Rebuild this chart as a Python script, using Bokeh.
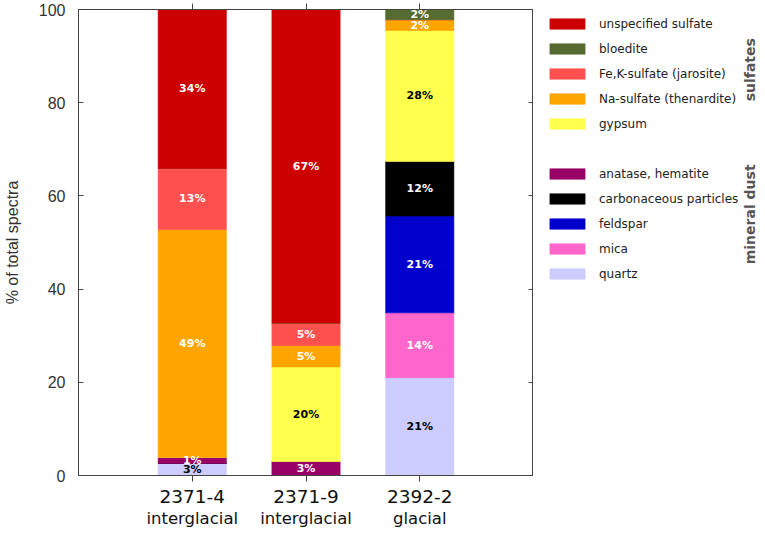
import math
from bokeh.plotting import figure
from bokeh.layouts import row
from bokeh.models import (Range1d, LinearAxis, FixedTicker, Legend, LegendItem,
                          ColumnDataSource, Label)
from bokeh.core.properties import value
from bokeh.embed import file_html
from bokeh.resources import INLINE

# ---------------- data ----------------
samples = ["2371-4", "2371-9", "2392-2"]
climate = ["interglacial", "interglacial", "glacial"]

# stacked from bottom to top
quartz = [2.6, 0.0, 21.0]
mica = [0.0, 0.0, 13.9]
feldspar = [0.0, 0.0, 20.8]
carbonaceous = [0.0, 0.0, 11.7]
anatase_hematite = [1.3, 3.0, 0.0]
gypsum = [0.0, 20.3, 28.1]
na_sulfate = [48.9, 4.6, 2.3]
fek_sulfate = [13.1, 4.8, 0.0]
bloedite = [0.0, 0.0, 2.2]
unspecified = [34.1, 67.3, 0.0]

series_names = ["quartz", "mica", "feldspar", "carbonaceous particles",
                "anatase, hematite", "gypsum", "Na-sulfate (thenardite)",
                "Fe,K-sulfate (jarosite)", "bloedite", "unspecified sulfate"]
series_values = [quartz, mica, feldspar, carbonaceous, anatase_hematite,
                 gypsum, na_sulfate, fek_sulfate, bloedite, unspecified]
y_ticks = [0, 20, 40, 60, 80, 100]
group_labels = ["sulfates", "mineral dust"]

# ---------------- styles ----------------
colors = ["#CCCCFF", "#FF66CC", "#0000CC", "#000000", "#990066",
          "#FFFF4D", "#FFA500", "#FF5050", "#556B2F", "#CC0000"]
label_colors = ["black", "white", "white", "white", "white",
                "black", "white", "white", "white", "white"]
AX = "#444444"

xs = [i + 1 for i in range(len(samples))]
keys = ["s%d" % i for i in range(len(series_names))]
data = {"x": xs}
for k, v in zip(keys, series_values):
    data[k] = v
source = ColumnDataSource(data)

p = figure(width=533, height=530, x_range=Range1d(0, 4), y_range=Range1d(0, 100),
           output_backend="svg", toolbar_location=None,
           min_border_left=77, min_border_top=9, min_border_right=0, min_border_bottom=0)
p.xgrid.visible = False
p.ygrid.visible = False
p.outline_line_color = AX
p.background_fill_color = "white"
p.border_fill_color = "white"

renderers = p.vbar_stack(keys, x="x", width=0.6, source=source,
                         fill_color=colors, line_color=colors, line_alpha=0.6)

# percentage labels
lx, ly, lt, lc = [], [], [], []
for j in range(len(samples)):
    cum = 0.0
    for i, vals in enumerate(series_values):
        v = vals[j]
        if v > 0:
            lx.append(xs[j])
            ly.append(cum + v / 2.0)
            lt.append("%d%%" % int(math.floor(v + 0.5)))
            lc.append(label_colors[i])
        cum += v
lsrc = ColumnDataSource(dict(x=lx, y=ly, t=lt, c=lc))
p.text(x="x", y="y", text="t", text_color="c", source=lsrc,
       text_font=value("DejaVu Sans"), text_font_style="bold",
       text_font_size="11px", text_align="center", text_baseline="middle")

# bottom axes: sample name and climate
xa = p.xaxis[0]
xa.ticker = FixedTicker(ticks=xs)
xa.major_label_overrides = {x: s for x, s in zip(xs, samples)}
xa.major_label_text_font = "DejaVu Sans"
xa.major_label_text_font_size = "18.5px"
xa.major_label_text_color = "#111111"
xa.major_tick_in = 0
xa.major_tick_out = 6
xa.minor_tick_line_color = None
xa.axis_line_color = AX
xa.major_tick_line_color = AX
xa.major_label_standoff = 8

xa2 = LinearAxis(ticker=FixedTicker(ticks=xs),
                 major_label_overrides={x: s for x, s in zip(xs, climate)})
xa2.major_label_text_font = "DejaVu Sans"
xa2.major_label_text_font_size = "16.5px"
xa2.major_label_text_color = "#111111"
xa2.axis_line_color = None
xa2.major_tick_line_color = None
xa2.minor_tick_line_color = None
xa2.major_tick_in = 0
xa2.major_tick_out = 0
xa2.major_label_standoff = 3
p.add_layout(xa2, "below")

# top axis: ticks only
xt = LinearAxis(ticker=FixedTicker(ticks=xs))
xt.major_label_text_font_size = "1px"
xt.major_label_text_alpha = 0
xt.major_label_standoff = 0
xt.major_tick_in = 0
xt.major_tick_out = 6
xt.minor_tick_line_color = None
xt.axis_line_color = AX
xt.major_tick_line_color = AX
p.add_layout(xt, "above")

ya = p.yaxis[0]
ya.ticker = FixedTicker(ticks=y_ticks)
ya.major_tick_in = 5
ya.major_tick_out = 0
ya.minor_tick_line_color = None
ya.axis_line_color = AX
ya.major_tick_line_color = AX
ya.major_label_text_font = "Liberation Sans"
ya.major_label_text_font_size = "16px"
ya.major_label_text_color = "#333333"
ya.major_label_standoff = 13
ya.axis_label = "% of total spectra"
ya.axis_label_text_font = "Liberation Sans"
ya.axis_label_text_font_size = "16px"
ya.axis_label_text_font_style = "normal"
ya.axis_label_text_color = "#333333"
ya.axis_label_standoff = 15

# right axis: inward ticks only
yr = LinearAxis(ticker=FixedTicker(ticks=y_ticks))
yr.major_label_text_font_size = "1px"
yr.major_label_text_alpha = 0
yr.major_label_standoff = 0
yr.major_tick_in = 5
yr.major_tick_out = 0
yr.minor_tick_line_color = None
yr.axis_line_color = AX
yr.major_tick_line_color = AX
p.add_layout(yr, "right")

# ---------------- legend panel ----------------
W2 = 224
p2 = figure(width=W2, height=530, x_range=Range1d(0, W2), y_range=Range1d(530, 0),
            x_axis_location=None, y_axis_location=None, output_backend="svg",
            toolbar_location=None, min_border=0)
p2.xgrid.visible = False
p2.ygrid.visible = False
p2.outline_line_color = None
p2.background_fill_color = "white"
p2.border_fill_color = "white"

# zero-size proxy glyphs that only serve as legend swatches
swatches = [p2.vbar(x=[0], top=[0], bottom=[0], width=0, fill_color=c,
                    line_color=c, line_alpha=0.6) for c in colors]
spacer = p2.vbar(x=[0], top=[0], bottom=[0], width=0, fill_alpha=0, line_alpha=0)
items = []
for i in range(len(series_names) - 1, -1, -1):
    items.append(LegendItem(label=series_names[i], renderers=[swatches[i]]))
    if series_names[i] == "gypsum":
        items.append(LegendItem(label=" ", renderers=[spacer]))
legend = Legend(items=items, location=(12, 189), margin=0, padding=0, spacing=0,
                glyph_width=44, glyph_height=13, label_height=25, label_standoff=10,
                label_text_font="DejaVu Sans", label_text_font_size="12px",
                label_text_color="#222222", border_line_color=None,
                background_fill_alpha=0)
p2.add_layout(legend)

for txt, yc in zip(group_labels, [68.5, 233]):
    p2.add_layout(Label(x=216, y=yc, text=txt, angle=math.pi / 2,
                        text_align="center", text_baseline="middle",
                        text_font="DejaVu Sans", text_font_style="bold",
                        text_font_size="14px", text_color="#555555"))

layout = row(p, p2)
open("out.html", "w").write(file_html(layout, INLINE))
